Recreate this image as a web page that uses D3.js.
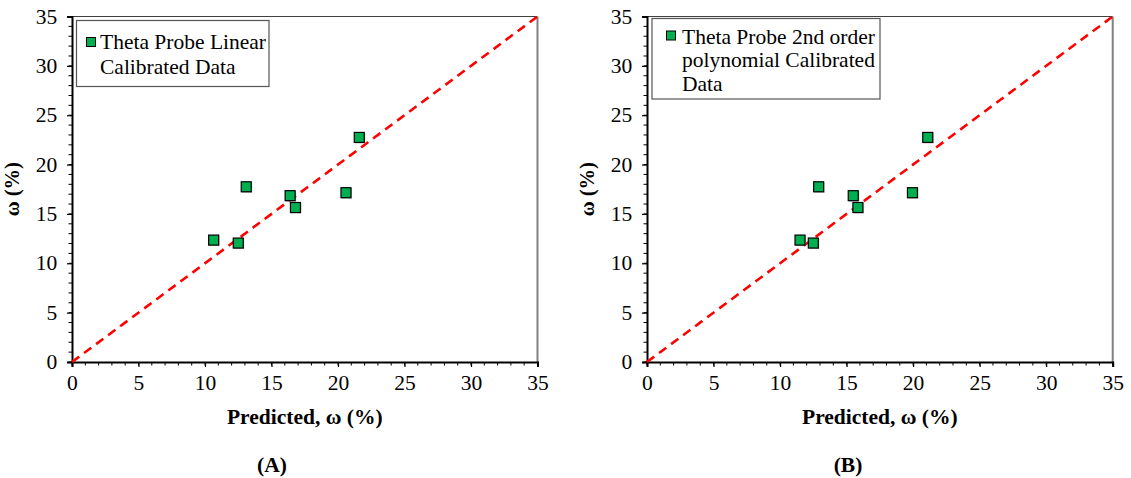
<!DOCTYPE html>
<html><head><meta charset="utf-8">
<script src="https://cdn.jsdelivr.net/npm/d3@7"></script>
<style>
body{margin:0;background:#fff;}
svg{display:block;}
text{font-family:"Liberation Serif","Times New Roman",serif;fill:#000;}
</style></head>
<body>
<svg id="chart" width="1131" height="478"></svg>
<script>
// Data
const predictedA = [10.65, 12.5, 13.1, 16.4, 16.8, 20.6, 21.6];
const measuredA  = [12.35, 12.05, 17.75, 16.85, 15.65, 17.15, 22.75];
const predictedB = [11.5, 12.5, 12.9, 15.5, 15.85, 19.95, 21.1];
const measuredB  = [12.35, 12.05, 17.75, 16.85, 15.65, 17.15, 22.75];
const axisTicks = [0, 5, 10, 15, 20, 25, 30, 35];
const legendA = ["Theta Probe Linear", "Calibrated Data"];
const legendB = ["Theta Probe 2nd order", "polynomial Calibrated", "Data"];
const xTitle = "Predicted, \u03c9 (%)";
const yTitle = "\u03c9 (%)";
const captions = ["(A)", "(B)"];

const SX = 1.05; // slight horizontal stretch of the reference's type
const FS = 20.5;
const svg = d3.select("#chart");

function stretchedText(parent, x, y, str, opts) {
  const t = parent.append("text")
    .attr("transform", `translate(${x},${y}) ${opts.rotate ? "rotate(-90) " : ""}scale(${opts.rotate ? 1 : SX},${opts.rotate ? SX : 1})`)
    .attr("font-size", opts.size || FS)
    .attr("text-anchor", opts.anchor || "start")
    .text(str);
  if (opts.bold) t.attr("font-weight", "bold");
  return t;
}

function panel(cfg) {
  const x = d3.scaleLinear().domain([0, 35]).range([cfg.x0, cfg.x1]);
  const y = d3.scaleLinear().domain([0, 35]).range([362, 16.5]);
  const g = svg.append("g");
  const minor = d3.range(0, 36, 1);

  // frame top/right
  g.append("line").attr("x1", x(0)).attr("x2", x(35)).attr("y1", y(35)).attr("y2", y(35))
    .attr("stroke", "#404040").attr("stroke-width", 1.2);
  g.append("line").attr("x1", x(35)).attr("x2", x(35)).attr("y1", y(35)).attr("y2", y(0))
    .attr("stroke", "#808080").attr("stroke-width", 2);

  // minor ticks
  g.selectAll(".mx").data(minor).join("line")
    .attr("x1", d => x(d)).attr("x2", d => x(d)).attr("y1", y(0)).attr("y2", y(0) + 3.5)
    .attr("stroke", "#000").attr("stroke-width", 1);
  g.selectAll(".my").data(minor).join("line")
    .attr("y1", d => y(d)).attr("y2", d => y(d)).attr("x1", x(0)).attr("x2", x(0) - 3.5)
    .attr("stroke", "#000").attr("stroke-width", 1);

  // axes
  const xa = g.append("g").attr("transform", `translate(0,${y(0)})`)
    .call(d3.axisBottom(x).tickValues(axisTicks).tickSize(5).tickPadding(8).tickFormat(d3.format("d")));
  const ya = g.append("g").attr("transform", `translate(${x(0)},0)`)
    .call(d3.axisLeft(y).tickValues(axisTicks).tickSize(5).tickPadding(9).tickFormat(d3.format("d")));
  [xa, ya].forEach(a => {
    a.select(".domain").attr("stroke", "#000").attr("stroke-width", 2);
    a.selectAll(".tick line").attr("stroke", "#000").attr("stroke-width", 1.2);
    a.selectAll("text").attr("font-family", "Liberation Serif").attr("font-size", FS).attr("fill", "#000")
      .attr("transform", `scale(${SX},1)`);
  });

  // dashed 1:1 line
  g.append("line").attr("x1", x(0)).attr("y1", y(0)).attr("x2", x(35)).attr("y2", y(35))
    .attr("stroke", "#ff0000").attr("stroke-width", 2.6).attr("stroke-dasharray", "9,6");

  // points
  const pts = cfg.px.map((v, i) => ({ px: v, m: cfg.py[i] }));
  g.selectAll(".sh").data(pts).join("rect")
    .attr("x", d => x(d.px) - 4.5).attr("y", d => y(d.m) - 4.5)
    .attr("width", 10.5).attr("height", 10.5).attr("fill", "#9a9a9a").attr("opacity", 0.6);
  g.selectAll(".pt").data(pts).join("rect")
    .attr("x", d => x(d.px) - 5).attr("y", d => y(d.m) - 5)
    .attr("width", 10).attr("height", 10).attr("fill", "#00b050")
    .attr("stroke", "#000").attr("stroke-width", 1.2);

  // legend
  const L = cfg.legend;
  g.append("rect").attr("x", L.x).attr("y", L.y).attr("width", L.w).attr("height", L.h)
    .attr("fill", "#fff").attr("stroke", "#555").attr("stroke-width", 1.2);
  g.append("rect").attr("x", L.mx).attr("y", L.my).attr("width", 9).attr("height", 9)
    .attr("fill", "#00b050").attr("stroke", "#000").attr("stroke-width", 1);
  cfg.legendText.forEach((d, i) => stretchedText(g, L.tx, L.ty + i * L.lh, d, {}));

  // titles
  stretchedText(g, (x(0) + x(35)) / 2, 424, xTitle, { anchor: "middle", bold: true });
  stretchedText(g, x(0) - 53, (y(0) + y(35)) / 2, yTitle, { anchor: "middle", bold: true, rotate: true });
  stretchedText(g, cfg.capX, 472, cfg.caption, { anchor: "middle", bold: true });
}

panel({ x0: 72, x1: 537.5, px: predictedA, py: measuredA, legendText: legendA, caption: captions[0], capX: 272,
  legend: { x: 76.5, y: 20.5, w: 192.5, h: 66, mx: 86.5, my: 37.5, tx: 100, ty: 49, lh: 25 } });
panel({ x0: 647, x1: 1112.7, px: predictedB, py: measuredB, legendText: legendB, caption: captions[1], capX: 848,
  legend: { x: 652, y: 18.5, w: 228, h: 80.5, mx: 666.5, my: 31, tx: 682, ty: 43.5, lh: 23.5 } });
</script>
</body></html>
